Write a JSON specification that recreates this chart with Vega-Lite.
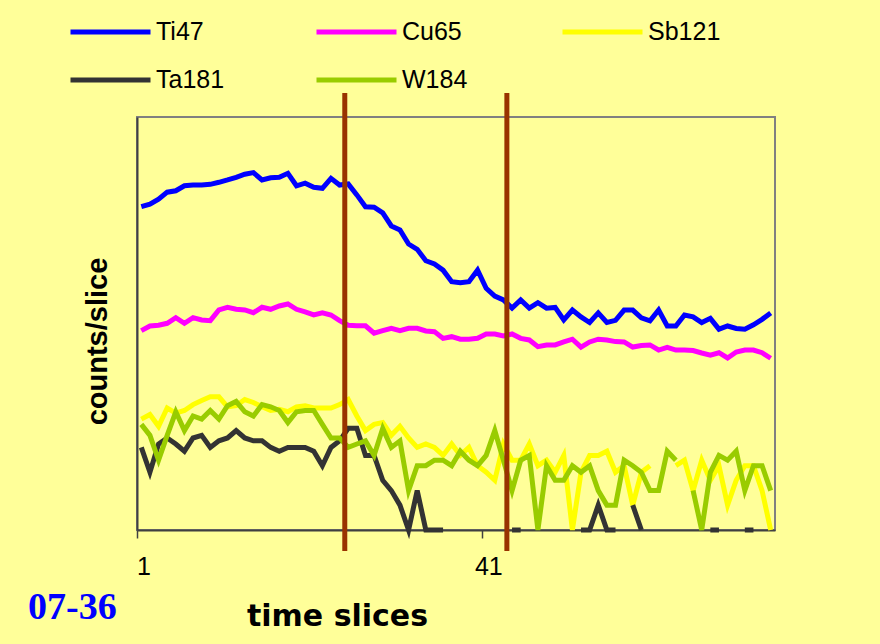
{
"$schema": "https://vega.github.io/schema/vega-lite/v6.json",
"autosize": "none",
"width": 638,
"height": 413,
"padding": {"left": 137, "top": 117, "right": 105, "bottom": 114},
"background": "#FFFF99",
"title": {"text": "07-36", "orient": "bottom", "anchor": "start", "frame": "group", "font": "Liberation Serif", "fontSize": 38, "fontWeight": "bold", "color": "#0000FF", "dx": -109, "dy": -46},
"config": {"view": {"stroke": "#808080", "strokeWidth": 2}, "font": "Liberation Sans"},
"layer": [
{
"data": {"values": [
{"s":1,"e":"Ti47","c":8200},{"s":2,"e":"Ti47","c":8800},{"s":3,"e":"Ti47","c":10100},{"s":4,"e":"Ti47","c":12300},{"s":5,"e":"Ti47","c":12800},{"s":6,"e":"Ti47","c":14700},{"s":7,"e":"Ti47","c":15000},{"s":8,"e":"Ti47","c":15000},{"s":9,"e":"Ti47","c":15300},{"s":10,"e":"Ti47","c":16200},
{"s":11,"e":"Ti47","c":17300},{"s":12,"e":"Ti47","c":18600},{"s":13,"e":"Ti47","c":20300},{"s":14,"e":"Ti47","c":21200},{"s":15,"e":"Ti47","c":17300},{"s":16,"e":"Ti47","c":18400},{"s":17,"e":"Ti47","c":18600},{"s":18,"e":"Ti47","c":20800},{"s":19,"e":"Ti47","c":14700},{"s":20,"e":"Ti47","c":15800},
{"s":21,"e":"Ti47","c":14100},{"s":22,"e":"Ti47","c":13700},{"s":23,"e":"Ti47","c":18100},{"s":24,"e":"Ti47","c":15000},{"s":25,"e":"Ti47","c":15500},{"s":26,"e":"Ti47","c":11400},{"s":27,"e":"Ti47","c":8200},{"s":28,"e":"Ti47","c":8100},{"s":29,"e":"Ti47","c":6900},{"s":30,"e":"Ti47","c":4800},
{"s":31,"e":"Ti47","c":4300},{"s":32,"e":"Ti47","c":2900},{"s":33,"e":"Ti47","c":2500},{"s":34,"e":"Ti47","c":1820},{"s":35,"e":"Ti47","c":1660},{"s":36,"e":"Ti47","c":1400},{"s":37,"e":"Ti47","c":1015},{"s":38,"e":"Ti47","c":985},{"s":39,"e":"Ti47","c":1015},{"s":40,"e":"Ti47","c":1400},
{"s":41,"e":"Ti47","c":845},{"s":42,"e":"Ti47","c":680},{"s":43,"e":"Ti47","c":610},{"s":44,"e":"Ti47","c":485},{"s":45,"e":"Ti47","c":610},{"s":46,"e":"Ti47","c":485},{"s":47,"e":"Ti47","c":565},{"s":48,"e":"Ti47","c":485},{"s":49,"e":"Ti47","c":495},{"s":50,"e":"Ti47","c":350},
{"s":51,"e":"Ti47","c":460},{"s":52,"e":"Ti47","c":380},{"s":53,"e":"Ti47","c":325},{"s":54,"e":"Ti47","c":425},{"s":55,"e":"Ti47","c":325},{"s":56,"e":"Ti47","c":345},{"s":57,"e":"Ti47","c":460},{"s":58,"e":"Ti47","c":460},{"s":59,"e":"Ti47","c":370},{"s":60,"e":"Ti47","c":340},
{"s":61,"e":"Ti47","c":460},{"s":62,"e":"Ti47","c":295},{"s":63,"e":"Ti47","c":295},{"s":64,"e":"Ti47","c":400},{"s":65,"e":"Ti47","c":380},{"s":66,"e":"Ti47","c":325},{"s":67,"e":"Ti47","c":365},{"s":68,"e":"Ti47","c":270},{"s":69,"e":"Ti47","c":295},{"s":70,"e":"Ti47","c":275},
{"s":71,"e":"Ti47","c":270},{"s":72,"e":"Ti47","c":305},{"s":73,"e":"Ti47","c":355},{"s":74,"e":"Ti47","c":425},
{"s":1,"e":"Cu65","c":259},{"s":2,"e":"Cu65","c":295},{"s":3,"e":"Cu65","c":301},{"s":4,"e":"Cu65","c":318},{"s":5,"e":"Cu65","c":372},{"s":6,"e":"Cu65","c":318},{"s":7,"e":"Cu65","c":372},{"s":8,"e":"Cu65","c":349},{"s":9,"e":"Cu65","c":342},{"s":10,"e":"Cu65","c":461},
{"s":11,"e":"Cu65","c":497},{"s":12,"e":"Cu65","c":470},{"s":13,"e":"Cu65","c":461},{"s":14,"e":"Cu65","c":427},{"s":15,"e":"Cu65","c":497},{"s":16,"e":"Cu65","c":470},{"s":17,"e":"Cu65","c":515},{"s":18,"e":"Cu65","c":545},{"s":19,"e":"Cu65","c":470},{"s":20,"e":"Cu65","c":436},
{"s":21,"e":"Cu65","c":401},{"s":22,"e":"Cu65","c":427},{"s":23,"e":"Cu65","c":401},{"s":24,"e":"Cu65","c":342},{"s":25,"e":"Cu65","c":301},{"s":26,"e":"Cu65","c":297},{"s":27,"e":"Cu65","c":297},{"s":28,"e":"Cu65","c":241},{"s":29,"e":"Cu65","c":259},{"s":30,"e":"Cu65","c":277},
{"s":31,"e":"Cu65","c":259},{"s":32,"e":"Cu65","c":277},{"s":33,"e":"Cu65","c":277},{"s":34,"e":"Cu65","c":257},{"s":35,"e":"Cu65","c":252},{"s":36,"e":"Cu65","c":209},{"s":37,"e":"Cu65","c":219},{"s":38,"e":"Cu65","c":204},{"s":39,"e":"Cu65","c":204},{"s":40,"e":"Cu65","c":209},
{"s":41,"e":"Cu65","c":236},{"s":42,"e":"Cu65","c":236},{"s":43,"e":"Cu65","c":223},{"s":44,"e":"Cu65","c":236},{"s":45,"e":"Cu65","c":209},{"s":46,"e":"Cu65","c":200},{"s":47,"e":"Cu65","c":166},{"s":48,"e":"Cu65","c":174},{"s":49,"e":"Cu65","c":174},{"s":50,"e":"Cu65","c":189},
{"s":51,"e":"Cu65","c":204},{"s":52,"e":"Cu65","c":164},{"s":53,"e":"Cu65","c":189},{"s":54,"e":"Cu65","c":204},{"s":55,"e":"Cu65","c":200},{"s":56,"e":"Cu65","c":191},{"s":57,"e":"Cu65","c":189},{"s":58,"e":"Cu65","c":164},{"s":59,"e":"Cu65","c":171},{"s":60,"e":"Cu65","c":174},
{"s":61,"e":"Cu65","c":151},{"s":62,"e":"Cu65","c":163},{"s":63,"e":"Cu65","c":151},{"s":64,"e":"Cu65","c":151},{"s":65,"e":"Cu65","c":149},{"s":66,"e":"Cu65","c":139},{"s":67,"e":"Cu65","c":131},{"s":68,"e":"Cu65","c":140},{"s":69,"e":"Cu65","c":121},{"s":70,"e":"Cu65","c":143},
{"s":71,"e":"Cu65","c":151},{"s":72,"e":"Cu65","c":151},{"s":73,"e":"Cu65","c":140},{"s":74,"e":"Cu65","c":120},
{"s":1,"e":"Sb121","c":22},{"s":2,"e":"Sb121","c":25},{"s":3,"e":"Sb121","c":18},{"s":4,"e":"Sb121","c":30},{"s":5,"e":"Sb121","c":26},{"s":6,"e":"Sb121","c":28},{"s":7,"e":"Sb121","c":33},{"s":8,"e":"Sb121","c":37},{"s":9,"e":"Sb121","c":41},{"s":10,"e":"Sb121","c":41},
{"s":11,"e":"Sb121","c":31},{"s":12,"e":"Sb121","c":32},{"s":13,"e":"Sb121","c":38},{"s":14,"e":"Sb121","c":35},{"s":15,"e":"Sb121","c":31},{"s":16,"e":"Sb121","c":28},{"s":17,"e":"Sb121","c":29},{"s":18,"e":"Sb121","c":27},{"s":19,"e":"Sb121","c":31},{"s":20,"e":"Sb121","c":32},
{"s":21,"e":"Sb121","c":30},{"s":22,"e":"Sb121","c":30},{"s":23,"e":"Sb121","c":30},{"s":24,"e":"Sb121","c":33},{"s":25,"e":"Sb121","c":38},{"s":26,"e":"Sb121","c":24},{"s":27,"e":"Sb121","c":16},{"s":28,"e":"Sb121","c":19},{"s":29,"e":"Sb121","c":20},{"s":30,"e":"Sb121","c":14},
{"s":31,"e":"Sb121","c":18},{"s":32,"e":"Sb121","c":13},{"s":33,"e":"Sb121","c":10},{"s":34,"e":"Sb121","c":11},{"s":35,"e":"Sb121","c":10},{"s":36,"e":"Sb121","c":8},{"s":37,"e":"Sb121","c":11},{"s":38,"e":"Sb121","c":8},{"s":39,"e":"Sb121","c":10},{"s":40,"e":"Sb121","c":6},
{"s":41,"e":"Sb121","c":5},{"s":42,"e":"Sb121","c":4},{"s":43,"e":"Sb121","c":11},{"s":44,"e":"Sb121","c":7},{"s":45,"e":"Sb121","c":7},{"s":46,"e":"Sb121","c":11},{"s":47,"e":"Sb121","c":6},{"s":48,"e":"Sb121","c":7},{"s":49,"e":"Sb121","c":5},{"s":50,"e":"Sb121","c":8},
{"s":51,"e":"Sb121","c":1},{"s":52,"e":"Sb121","c":5},{"s":53,"e":"Sb121","c":8},{"s":54,"e":"Sb121","c":8},{"s":55,"e":"Sb121","c":9},{"s":56,"e":"Sb121","c":5},{"s":57,"e":"Sb121","c":6},{"s":58,"e":"Sb121","c":2},{"s":59,"e":"Sb121","c":5},{"s":60,"e":"Sb121","c":6},
{"s":61,"e":"Sb121","c":null},{"s":62,"e":"Sb121","c":null},{"s":63,"e":"Sb121","c":6},{"s":64,"e":"Sb121","c":7},{"s":65,"e":"Sb121","c":3},{"s":66,"e":"Sb121","c":7},{"s":67,"e":"Sb121","c":4},{"s":68,"e":"Sb121","c":6},{"s":69,"e":"Sb121","c":2},{"s":70,"e":"Sb121","c":4},
{"s":71,"e":"Sb121","c":6},{"s":72,"e":"Sb121","c":6},{"s":73,"e":"Sb121","c":3},{"s":74,"e":"Sb121","c":1},
{"s":1,"e":"Ta181","c":10},{"s":2,"e":"Ta181","c":5},{"s":3,"e":"Ta181","c":11},{"s":4,"e":"Ta181","c":13},{"s":5,"e":"Ta181","c":11},{"s":6,"e":"Ta181","c":9},{"s":7,"e":"Ta181","c":13},{"s":8,"e":"Ta181","c":14},{"s":9,"e":"Ta181","c":10},{"s":10,"e":"Ta181","c":12},
{"s":11,"e":"Ta181","c":13},{"s":12,"e":"Ta181","c":16},{"s":13,"e":"Ta181","c":13},{"s":14,"e":"Ta181","c":12},{"s":15,"e":"Ta181","c":12},{"s":16,"e":"Ta181","c":10},{"s":17,"e":"Ta181","c":9},{"s":18,"e":"Ta181","c":10},{"s":19,"e":"Ta181","c":10},{"s":20,"e":"Ta181","c":10},
{"s":21,"e":"Ta181","c":9},{"s":22,"e":"Ta181","c":6},{"s":23,"e":"Ta181","c":10},{"s":24,"e":"Ta181","c":12},{"s":25,"e":"Ta181","c":17},{"s":26,"e":"Ta181","c":17},{"s":27,"e":"Ta181","c":8},{"s":28,"e":"Ta181","c":8},{"s":29,"e":"Ta181","c":4},{"s":30,"e":"Ta181","c":3},
{"s":31,"e":"Ta181","c":2},{"s":32,"e":"Ta181","c":1},{"s":33,"e":"Ta181","c":3},{"s":34,"e":"Ta181","c":1},{"s":35,"e":"Ta181","c":1},{"s":36,"e":"Ta181","c":1},{"s":37,"e":"Ta181","c":null},{"s":38,"e":"Ta181","c":null},{"s":39,"e":"Ta181","c":null},{"s":40,"e":"Ta181","c":null},
{"s":41,"e":"Ta181","c":null},{"s":42,"e":"Ta181","c":null},{"s":43,"e":"Ta181","c":null},{"s":44,"e":"Ta181","c":1},{"s":45,"e":"Ta181","c":1},{"s":46,"e":"Ta181","c":null},{"s":47,"e":"Ta181","c":null},{"s":48,"e":"Ta181","c":null},{"s":49,"e":"Ta181","c":null},{"s":50,"e":"Ta181","c":null},
{"s":51,"e":"Ta181","c":null},{"s":52,"e":"Ta181","c":1},{"s":53,"e":"Ta181","c":1},{"s":54,"e":"Ta181","c":2},{"s":55,"e":"Ta181","c":1},{"s":56,"e":"Ta181","c":1},{"s":57,"e":"Ta181","c":null},{"s":58,"e":"Ta181","c":2},{"s":59,"e":"Ta181","c":1},{"s":60,"e":"Ta181","c":null},
{"s":61,"e":"Ta181","c":null},{"s":62,"e":"Ta181","c":null},{"s":63,"e":"Ta181","c":null},{"s":64,"e":"Ta181","c":null},{"s":65,"e":"Ta181","c":null},{"s":66,"e":"Ta181","c":null},{"s":67,"e":"Ta181","c":1},{"s":68,"e":"Ta181","c":1},{"s":69,"e":"Ta181","c":null},{"s":70,"e":"Ta181","c":null},
{"s":71,"e":"Ta181","c":1},{"s":72,"e":"Ta181","c":1},{"s":73,"e":"Ta181","c":null},{"s":74,"e":"Ta181","c":null},
{"s":1,"e":"W184","c":19},{"s":2,"e":"W184","c":14},{"s":3,"e":"W184","c":7},{"s":4,"e":"W184","c":14},{"s":5,"e":"W184","c":27},{"s":6,"e":"W184","c":16},{"s":7,"e":"W184","c":24},{"s":8,"e":"W184","c":22},{"s":9,"e":"W184","c":28},{"s":10,"e":"W184","c":22},
{"s":11,"e":"W184","c":32},{"s":12,"e":"W184","c":36},{"s":13,"e":"W184","c":27},{"s":14,"e":"W184","c":24},{"s":15,"e":"W184","c":33},{"s":16,"e":"W184","c":31},{"s":17,"e":"W184","c":28},{"s":18,"e":"W184","c":20},{"s":19,"e":"W184","c":27},{"s":20,"e":"W184","c":28},
{"s":21,"e":"W184","c":28},{"s":22,"e":"W184","c":19},{"s":23,"e":"W184","c":13},{"s":24,"e":"W184","c":13},{"s":25,"e":"W184","c":10},{"s":26,"e":"W184","c":11},{"s":27,"e":"W184","c":12},{"s":28,"e":"W184","c":8},{"s":29,"e":"W184","c":17},{"s":30,"e":"W184","c":10},
{"s":31,"e":"W184","c":12},{"s":32,"e":"W184","c":3},{"s":33,"e":"W184","c":6},{"s":34,"e":"W184","c":6},{"s":35,"e":"W184","c":7},{"s":36,"e":"W184","c":7},{"s":37,"e":"W184","c":6},{"s":38,"e":"W184","c":9},{"s":39,"e":"W184","c":7},{"s":40,"e":"W184","c":6},
{"s":41,"e":"W184","c":8},{"s":42,"e":"W184","c":16},{"s":43,"e":"W184","c":7},{"s":44,"e":"W184","c":3},{"s":45,"e":"W184","c":7},{"s":46,"e":"W184","c":8},{"s":47,"e":"W184","c":1},{"s":48,"e":"W184","c":6},{"s":49,"e":"W184","c":4},{"s":50,"e":"W184","c":4},
{"s":51,"e":"W184","c":6},{"s":52,"e":"W184","c":5},{"s":53,"e":"W184","c":6},{"s":54,"e":"W184","c":3},{"s":55,"e":"W184","c":2},{"s":56,"e":"W184","c":2},{"s":57,"e":"W184","c":7},{"s":58,"e":"W184","c":6},{"s":59,"e":"W184","c":5},{"s":60,"e":"W184","c":3},
{"s":61,"e":"W184","c":3},{"s":62,"e":"W184","c":9},{"s":63,"e":"W184","c":7},{"s":64,"e":"W184","c":null},{"s":65,"e":"W184","c":3},{"s":66,"e":"W184","c":1},{"s":67,"e":"W184","c":5},{"s":68,"e":"W184","c":8},{"s":69,"e":"W184","c":7},{"s":70,"e":"W184","c":9},
{"s":71,"e":"W184","c":3},{"s":72,"e":"W184","c":6},{"s":73,"e":"W184","c":6},{"s":74,"e":"W184","c":3}
]},
"mark": {"type": "line", "strokeWidth": 5, "invalid": "break-paths-filter-domains"},
"encoding": {
"x": {"field": "s", "type": "quantitative", "scale": {"domain": [0.5, 74.5], "nice": false, "zero": false},
 "axis": {"values": [0.5, 40.5], "labelExpr": "datum.value + 0.5", "labelOffset": 6.5, "grid": false, "domainColor": "#404040", "domainWidth": 2, "tickColor": "#404040", "tickWidth": 1.5, "tickSize": 8, "labelFontSize": 25, "labelFont": "Liberation Sans", "labelColor": "#000000", "labelPadding": 16, "labelFlush": false, "labelOverlap": false,
 "title": "time slices", "titleFont": "DejaVu Sans", "titleFontSize": 30, "titleFontWeight": "bold", "titleColor": "#000000", "titleX": 200, "titleY": 95, "titleBaseline": "alphabetic", "titleAlign": "center"}},
"y": {"field": "c", "type": "quantitative", "scale": {"type": "log", "domain": [1, 100000], "nice": false},
 "axis": {"ticks": false, "labels": false, "grid": false, "domainColor": "#404040", "domainWidth": 2,
 "title": "counts/slice", "titleFont": "Liberation Sans", "titleFontSize": 29, "titleFontWeight": "bold", "titleColor": "#000000", "titleX": -31, "titleY": 224, "titleAngle": 270, "titleBaseline": "alphabetic", "titleAlign": "center"}},
"color": {"field": "e", "type": "nominal",
 "scale": {"domain": ["Ti47", "Cu65", "Sb121", "Ta181", "W184"], "range": ["#0000FF", "#FF00FF", "#FFFF00", "#333333", "#99CC00"]},
 "legend": {"orient": "none", "legendX": -69, "legendY": -98, "columns": 3, "direction": "horizontal", "symbolType": "stroke", "symbolSize": 6400, "symbolStrokeWidth": 5, "clipHeight": 26, "labelFontSize": 25, "labelFont": "Liberation Sans", "labelColor": "#000000", "labelOffset": 3, "columnPadding": 85, "rowPadding": 22, "gridAlign": "all", "title": null, "padding": 0}}
}
},
{
"data": {"values": [{"m": 24.6}, {"m": 43.4}]},
"mark": {"type": "rule", "color": "#993300", "strokeWidth": 5},
"encoding": {
"x": {"field": "m", "type": "quantitative"},
"y": {"datum": 0.557},
"y2": {"datum": 195000}
}
}
]
}
